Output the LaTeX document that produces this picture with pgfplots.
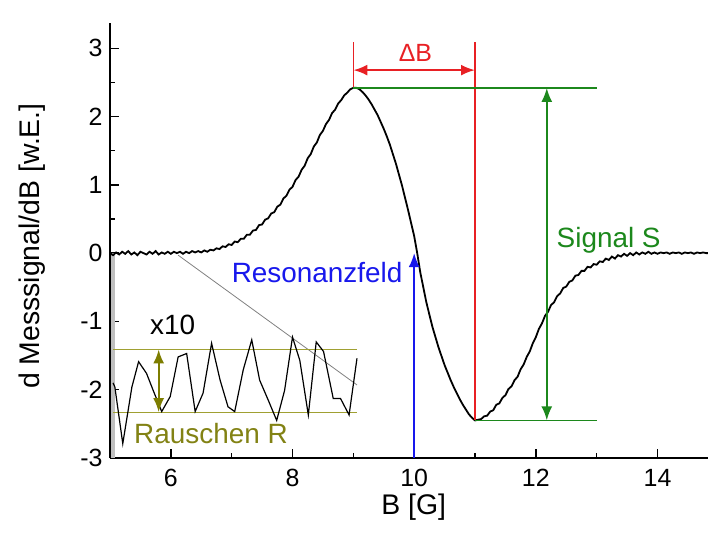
\documentclass[border=0pt]{standalone}
\usepackage{fontspec}
\setmainfont{Liberation Sans}
\usepackage{pgfplots}
\pgfplotsset{compat=1.18}
\usetikzlibrary{arrows.meta}

\definecolor{mred}{RGB}{232,32,36}
\definecolor{mgreen}{RGB}{28,136,28}
\definecolor{mblue}{RGB}{24,24,236}
\definecolor{oliveline}{RGB}{160,160,50}
\definecolor{olivearrow}{RGB}{125,125,0}
\definecolor{olivetext}{RGB}{130,130,20}

\tikzset{
  ann/.style={font=\fontsize{28}{33}\selectfont, inner sep=0pt},
  tip/.tip={Latex[length=14bp,width=11bp]},
}

\begin{document}
\begin{tikzpicture}
\begin{axis}[
  width=598bp, height=435bp, scale only axis,
  xmin=5, xmax=14.83, ymin=-3, ymax=3.37,
  axis x line=bottom, axis y line=left,
  axis line style={-, line width=1.4bp},
  xtick={6,8,10,12,14}, ytick={-3,-2,-1,0,1,2,3},
  minor x tick num=1, minor y tick num=1,
  tick align=inside,
  major tick length=9bp, minor tick length=5bp,
  tick style={line width=1.4bp, black},
  ticklabel style={font=\fontsize{25}{29}\selectfont},
  yticklabel style={xshift=-4bp},
  xticklabel style={yshift=-8bp},
  /pgf/number format/assume math mode=true,
  xlabel={B [G]}, ylabel={d Messsignal/dB [w.E.]},
  label style={font=\fontsize{28.5}{33}\selectfont},
  xlabel style={at={(axis description cs:0.508,-0.113)}, anchor=center},
  ylabel style={at={(axis description cs:-0.131,0.487)}, anchor=center},
  clip=false,
]
\coordinate (ll) at (rel axis cs:0,0);
\coordinate (ur) at (rel axis cs:1,1);

% light strip along the left axis below the baseline
\draw[black!25, line width=4bp] (axis cs:5.05,0) -- (axis cs:5.05,-3);

% EPR derivative spectrum
\addplot[black, line width=1.8bp] table {
5.00 0.00
5.05 -0.03
5.10 0.01
5.15 -0.02
5.20 0.02
5.25 -0.01
5.30 0.03
5.35 -0.02
5.40 0.01
5.45 -0.03
5.50 0.02
5.55 0.00
5.60 -0.02
5.65 0.02
5.70 -0.01
5.75 0.03
5.80 -0.02
5.85 0.01
5.90 -0.01
5.95 0.02
6.00 -0.01
6.05 0.02
6.10 0.00
6.15 0.02
6.20 -0.01
6.25 0.02
6.30 0.00
6.35 0.03
6.40 0.01
6.45 0.03
6.50 0.01
6.55 0.04
6.60 0.02
6.65 0.05
6.70 0.04
6.75 0.07
6.80 0.06
6.85 0.10
6.90 0.09
6.95 0.13
7.00 0.12
7.05 0.17
7.10 0.16
7.15 0.21
7.20 0.21
7.25 0.27
7.30 0.27
7.35 0.33
7.40 0.34
7.45 0.41
7.50 0.42
7.55 0.49
7.60 0.51
7.65 0.58
7.70 0.60
7.75 0.68
7.80 0.71
7.85 0.80
7.90 0.84
7.95 0.93
8.00 0.97
8.05 1.07
8.10 1.12
8.15 1.22
8.20 1.28
8.25 1.39
8.30 1.45
8.35 1.56
8.40 1.62
8.45 1.73
8.50 1.79
8.55 1.89
8.60 1.95
8.65 2.05
8.70 2.10
8.75 2.19
8.80 2.24
8.85 2.31
8.90 2.35
8.95 2.40
9.00 2.42
9.05 2.42
9.10 2.40
9.15 2.36
9.20 2.31
9.25 2.25
9.30 2.18
9.35 2.10
9.40 2.02
9.45 1.92
9.50 1.82
9.55 1.71
9.60 1.59
9.65 1.45
9.70 1.31
9.75 1.15
9.80 0.99
9.85 0.81
9.90 0.63
9.95 0.44
10.00 0.25
10.05 0.00
10.10 -0.28
10.15 -0.50
10.20 -0.72
10.25 -0.90
10.30 -1.08
10.35 -1.23
10.40 -1.38
10.45 -1.51
10.50 -1.64
10.55 -1.75
10.60 -1.86
10.65 -1.96
10.70 -2.05
10.75 -2.14
10.80 -2.22
10.85 -2.29
10.90 -2.36
10.95 -2.41
11.00 -2.45
11.05 -2.44
11.10 -2.43
11.15 -2.39
11.20 -2.38
11.25 -2.32
11.30 -2.30
11.35 -2.22
11.40 -2.20
11.45 -2.12
11.50 -2.08
11.55 -1.99
11.60 -1.95
11.65 -1.86
11.70 -1.81
11.75 -1.70
11.80 -1.63
11.85 -1.52
11.90 -1.44
11.95 -1.32
12.00 -1.23
12.05 -1.11
12.10 -1.03
12.15 -0.92
12.20 -0.86
12.25 -0.76
12.30 -0.72
12.35 -0.63
12.40 -0.59
12.45 -0.51
12.50 -0.49
12.55 -0.42
12.60 -0.40
12.65 -0.33
12.70 -0.32
12.75 -0.26
12.80 -0.26
12.85 -0.20
12.90 -0.21
12.95 -0.16
13.00 -0.17
13.05 -0.12
13.10 -0.13
13.15 -0.08
13.20 -0.10
13.25 -0.05
13.30 -0.08
13.35 -0.03
13.40 -0.05
13.45 -0.01
13.50 -0.04
13.55 0.00
13.60 -0.03
13.65 0.01
13.70 -0.02
13.75 0.01
13.80 -0.01
13.85 0.02
13.90 -0.01
13.95 0.01
14.00 -0.01
14.05 0.01
14.10 0.00
14.15 0.01
14.20 -0.01
14.25 0.01
14.30 0.00
14.35 0.01
14.40 -0.01
14.45 0.01
14.50 0.00
14.55 0.01
14.60 -0.01
14.65 0.01
14.70 0.00
14.75 0.01
14.80 0.00
14.83 0.00
};

% line width Delta B
\draw[mred, line width=1.4bp] (axis cs:9,3.09) -- (axis cs:9,2.42);
\draw[mred, line width=1.4bp] (axis cs:11,3.09) -- (axis cs:11,-2.45);
\draw[mred, line width=2.2bp, {tip}-{tip}] (axis cs:9,2.68) -- (axis cs:11,2.68);
\node[ann, mred, font=\fontsize{25}{30}\selectfont] at (axis cs:10.02,2.93) {ΔB};

% peak-to-peak signal S
\draw[mgreen, line width=1.4bp] (axis cs:9,2.42) -- (axis cs:13.01,2.42);
\draw[mgreen, line width=1.4bp] (axis cs:11,-2.45) -- (axis cs:13.01,-2.45);
\draw[mgreen, line width=2.2bp, {tip}-{tip}] (axis cs:12.18,2.42) -- (axis cs:12.18,-2.45);
\node[ann, mgreen, anchor=west] at (axis cs:12.34,0.19) {Signal S};

% resonance field
\draw[mblue, line width=1.6bp, -{tip}] (axis cs:10,-3) -- (axis cs:10,0);
\node[ann, mblue, anchor=east] at (axis cs:9.81,-0.28) {Resonanzfeld};

% magnified noise (x10)
\draw[gray, line width=0.8bp] (axis cs:6.12,-0.03) -- (axis cs:9.06,-1.93);
\draw[oliveline, line width=1.4bp] (axis cs:5.05,-1.41) -- (axis cs:9.06,-1.41);
\draw[oliveline, line width=1.4bp] (axis cs:5.05,-2.33) -- (axis cs:9.06,-2.33);
\addplot[black, line width=1.2bp] coordinates {
(5.05,-1.90) (5.08,-1.96) (5.21,-2.79) (5.36,-1.96) (5.47,-1.59) (5.60,-1.76)
(5.71,-2.01) (5.85,-2.32) (5.99,-2.10) (6.12,-1.52) (6.26,-1.47) (6.40,-2.32)
(6.53,-2.05) (6.67,-1.32) (6.81,-1.86) (6.94,-2.25) (7.05,-2.32) (7.19,-1.71)
(7.33,-1.27) (7.46,-1.86) (7.60,-2.15) (7.74,-2.45) (7.87,-2.01) (8.00,-1.23)
(8.12,-1.57) (8.26,-2.37) (8.39,-1.30) (8.51,-1.44) (8.67,-2.13) (8.79,-2.13)
(8.93,-2.37) (9.06,-1.54)
};
\draw[olivearrow, line width=2.2bp, {tip}-{tip}] (axis cs:5.8,-1.41) -- (axis cs:5.8,-2.33);
\node[ann] at (axis cs:6.03,-1.05) {x10};
\node[ann, olivetext] at (axis cs:6.66,-2.64) {Rauschen R};
\end{axis}
\pgfresetboundingbox
\path[use as bounding box] ([xshift=-110bp,yshift=-76bp]ll) rectangle ([yshift=23bp]ur);
\end{tikzpicture}
\end{document}
